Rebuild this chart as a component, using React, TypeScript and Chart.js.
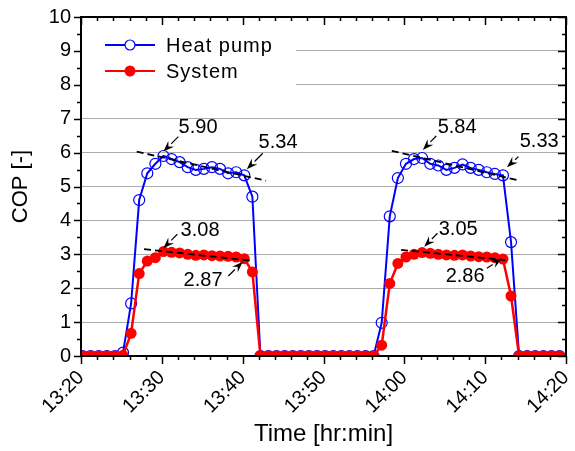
import React, { useEffect, useRef } from "react";
import { Chart, registerables } from "chart.js";

Chart.register(...registerables);

// Sample times in minutes after 13:20
const minutes = [
  0.2, 1.2, 2.2, 3.2, 4.2, 5.2, 6.2, 7.2, 8.2, 9.2,
  10.2, 11.2, 12.2, 13.2, 14.2, 15.2, 16.2, 17.2, 18.2, 19.2,
  20.2, 21.2, 22.2, 23.2, 24.2, 25.2, 26.2, 27.2, 28.2, 29.2,
  30.2, 31.2, 32.2, 33.2, 34.2, 35.2, 36.2, 37.2, 38.2, 39.2,
  40.2, 41.2, 42.2, 43.2, 44.2, 45.2, 46.2, 47.2, 48.2, 49.2,
  50.2, 51.2, 52.2, 53.2, 54.2, 55.2, 56.2, 57.2, 58.2, 59.2,
];

const heatPump = [
  0, 0, 0, 0, 0, 0.1, 1.55, 4.6, 5.39, 5.67,
  5.9, 5.81, 5.72, 5.57, 5.49, 5.52, 5.57, 5.52, 5.39, 5.42,
  5.33, 4.7, 0, 0, 0, 0, 0, 0, 0, 0,
  0, 0, 0, 0, 0, 0, 0, 0.98, 4.12, 5.25,
  5.67, 5.81, 5.84, 5.67, 5.62, 5.49, 5.55, 5.65, 5.55, 5.49,
  5.42, 5.37, 5.33, 3.36, 0, 0, 0, 0, 0, 0,
];

const system = [
  0, 0, 0, 0, 0, 0.02, 0.67, 2.43, 2.8, 2.9,
  3.08, 3.06, 3.04, 3.0, 2.97, 2.98, 2.96, 2.95, 2.94, 2.92,
  2.87, 2.48, 0, 0, 0, 0, 0, 0, 0, 0,
  0, 0, 0, 0, 0, 0, 0, 0.32, 2.14, 2.73,
  2.92, 3.0, 3.05, 3.03, 3.0, 2.98, 2.97, 2.98, 2.95, 2.93,
  2.92, 2.9, 2.86, 1.77, 0, 0, 0, 0, 0, 0,
];

const xTickLabels = ["13:20", "13:30", "13:40", "13:50", "14:00", "14:10", "14:20"];
const seriesNames = ["Heat pump", "System"];

// Trend lines: [x1, y1, x2, y2] in data units
const trendLines = [
  [6.89, 6.03, 22.9, 5.17],
  [7.8, 3.15, 21.13, 2.81],
  [38.45, 6.05, 54.33, 5.17],
  [39.6, 3.13, 52.47, 2.83],
];

// Callout texts and their positions / arrows in data units
const calloutTexts = ["5.90", "5.34", "3.08", "2.87", "5.84", "5.33", "3.05", "2.86"];
const calloutTextPos = [
  [14.48, 6.73], [24.38, 6.31], [14.73, 3.69], [15.1, 2.24],
  [46.53, 6.73], [56.68, 6.34], [46.66, 3.72], [47.52, 2.36],
];
const calloutArrows = [
  [12.04, 6.47, 10.19, 6.03], [22.49, 5.98, 20.51, 5.51],
  [11.92, 3.59, 10.19, 3.18], [18.23, 2.36, 20.01, 2.78],
  [43.94, 6.49, 42.29, 6.08], [54.12, 5.88, 52.69, 5.57],
  [44.1, 3.62, 42.45, 3.22], [50.21, 2.59, 52.07, 2.88],
];

const FONT = '"Liberation Sans", Arial, sans-serif';
const BLUE = "#0000ff";
const RED = "#ff0000";

const decorPlugin = {
  id: "decor",
  beforeDatasetsDraw(chart: any) {
    const { ctx, chartArea: a } = chart;
    ctx.save();
    ctx.fillStyle = "#ffffff";
    ctx.fillRect(a.left + 1, a.top + 10, 214, 72);
    ctx.restore();
  },
  afterDatasetsDraw(chart: any) {
    const { ctx, chartArea: a, scales } = chart;
    const xs = scales.x;
    const ys = scales.y;
    const px = (v: number) => xs.getPixelForValue(v);
    const py = (v: number) => ys.getPixelForValue(v);
    ctx.save();

    // trend lines
    ctx.strokeStyle = "#000";
    ctx.lineWidth = 1.8;
    ctx.setLineDash([7, 4]);
    for (const t of trendLines) {
      ctx.beginPath();
      ctx.moveTo(px(t[0]), py(t[1]));
      ctx.lineTo(px(t[2]), py(t[3]));
      ctx.stroke();
    }
    ctx.setLineDash([]);

    // arrows
    ctx.lineWidth = 1.2;
    ctx.fillStyle = "#000";
    for (const ar of calloutArrows) {
      const x1 = px(ar[0]), y1 = py(ar[1]), x2 = px(ar[2]), y2 = py(ar[3]);
      const ang = Math.atan2(y2 - y1, x2 - x1);
      const hl = 11, hw = 4;
      const bx = x2 - hl * Math.cos(ang), by = y2 - hl * Math.sin(ang);
      ctx.beginPath();
      ctx.moveTo(x1, y1);
      ctx.lineTo(bx, by);
      ctx.stroke();
      ctx.beginPath();
      ctx.moveTo(x2, y2);
      ctx.lineTo(bx + hw * Math.sin(ang), by - hw * Math.cos(ang));
      ctx.lineTo(x2 - hl * 0.65 * Math.cos(ang), y2 - hl * 0.65 * Math.sin(ang));
      ctx.lineTo(bx - hw * Math.sin(ang), by + hw * Math.cos(ang));
      ctx.closePath();
      ctx.fill();
    }

    // callout texts
    ctx.font = `20px ${FONT}`;
    ctx.textAlign = "center";
    ctx.textBaseline = "middle";
    calloutTexts.forEach((t, i) => {
      ctx.fillText(t, px(calloutTextPos[i][0]), py(calloutTextPos[i][1]));
    });

    // legend
    const lx = a.left + 24;
    const rows = [a.top + 28, a.top + 54];
    const colors = [BLUE, RED];
    ctx.textAlign = "left";
    ctx.font = `20px ${FONT}`;
    (ctx as any).letterSpacing = "1px";
    rows.forEach((ry, i) => {
      ctx.strokeStyle = colors[i];
      ctx.lineWidth = 2;
      ctx.beginPath();
      ctx.moveTo(lx, ry);
      ctx.lineTo(lx + 50, ry);
      ctx.stroke();
      ctx.beginPath();
      ctx.arc(lx + 25, ry, i === 0 ? 5 : 5.5, 0, Math.PI * 2);
      if (i === 0) {
        ctx.fillStyle = "#fff";
        ctx.fill();
        ctx.lineWidth = 1.2;
        ctx.stroke();
      } else {
        ctx.fillStyle = RED;
        ctx.fill();
      }
      ctx.fillStyle = "#000";
      ctx.fillText(seriesNames[i], lx + 61, ry + 1);
    });
    (ctx as any).letterSpacing = "0px";

    // frame
    ctx.strokeStyle = "#000";
    ctx.lineWidth = 2;
    ctx.strokeRect(a.left, a.top, a.right - a.left, a.bottom - a.top);

    // ticks
    ctx.lineWidth = 1.5;
    ctx.beginPath();
    for (let v = 0; v <= 60; v += 2) {
      const x = Math.round(px(v)) + 0.5;
      const major = v % 10 === 0;
      ctx.moveTo(x, a.bottom);
      ctx.lineTo(x, a.bottom + (major ? 8 : 4));
      ctx.moveTo(x, a.top);
      ctx.lineTo(x, a.top + (major ? 8 : 4));
    }
    for (let k = 0; k <= 20; k++) {
      const v = k / 2;
      const y = Math.round(py(v)) + 0.5;
      const major = k % 2 === 0;
      ctx.moveTo(a.left, y);
      ctx.lineTo(a.left - (major ? 7 : 4), y);
      ctx.moveTo(a.right, y);
      ctx.lineTo(a.right - (major ? 8 : 4), y);
    }
    ctx.stroke();
    ctx.restore();
  },
};

export default function App() {
  const ref = useRef<HTMLCanvasElement | null>(null);
  useEffect(() => {
    if (!ref.current) return;
    const chart = new Chart(ref.current, {
      type: "line",
      data: {
        datasets: [
          {
            label: seriesNames[0],
            data: minutes.map((m, i) => ({ x: m, y: heatPump[i] })),
            borderColor: BLUE,
            borderWidth: 2,
            pointStyle: "circle",
            pointRadius: 5.5,
            pointBorderWidth: 1.2,
            pointBorderColor: BLUE,
            pointBackgroundColor: "rgba(0,0,0,0)",
            tension: 0,
            clip: 0,
            order: 2,
          },
          {
            label: seriesNames[1],
            data: minutes.map((m, i) => ({ x: m, y: system[i] })),
            borderColor: RED,
            borderWidth: 2.5,
            pointStyle: "circle",
            pointRadius: 5.5,
            pointBorderWidth: 0,
            pointBackgroundColor: RED,
            tension: 0,
            clip: 0,
            order: 1,
          },
        ] as any,
      },
      options: {
        animation: false,
        responsive: false,
        events: [],
        layout: { padding: { top: 17, right: 9, left: 0, bottom: 0 } },
        plugins: { legend: { display: false }, tooltip: { enabled: false } },
        scales: {
          x: {
            type: "linear",
            min: 0,
            max: 60,
            grid: { display: false, drawTicks: false },
            border: { display: false },
            ticks: {
              stepSize: 10,
              minRotation: 45,
              maxRotation: 45,
              padding: 10,
              color: "#000",
              font: { size: 20, family: FONT },
              callback: (v: any) => xTickLabels[Math.round(Number(v) / 10)] ?? "",
            },
            title: {
              display: true,
              text: "Time [hr:min]",
              color: "#000",
              font: { size: 24, family: FONT },
              padding: { top: 0, bottom: 2 },
            },
            afterFit: (s: any) => {
              s.height = 95;
              s.paddingLeft = 0;
              s.paddingRight = 0;
            },
          },
          y: {
            type: "linear",
            min: 0,
            max: 10,
            grid: {
              drawTicks: false,
              color: (c: any) => (c.tick && (c.tick.value === 0 || c.tick.value === 10) ? "rgba(0,0,0,0)" : "#ababab"),
              lineWidth: 1,
            },
            border: { display: false },
            ticks: {
              stepSize: 1,
              padding: 10,
              color: "#000",
              font: { size: 20, family: FONT },
            },
            title: {
              display: true,
              text: "COP [-]",
              color: "#000",
              font: { size: 22, family: FONT },
              padding: { top: 8, bottom: 0 },
            },
            afterFit: (s: any) => {
              s.width = 81;
              s.paddingTop = 0;
              s.paddingBottom = 0;
            },
          },
        },
      } as any,
      plugins: [decorPlugin],
    });
    return () => chart.destroy();
  }, []);
  return (
    <div style={{ position: "fixed", left: 0, top: 0, width: 575, height: 451, background: "#fff" }}>
      <canvas ref={ref} width={575} height={451} style={{ display: "block" }} />
    </div>
  );
}
